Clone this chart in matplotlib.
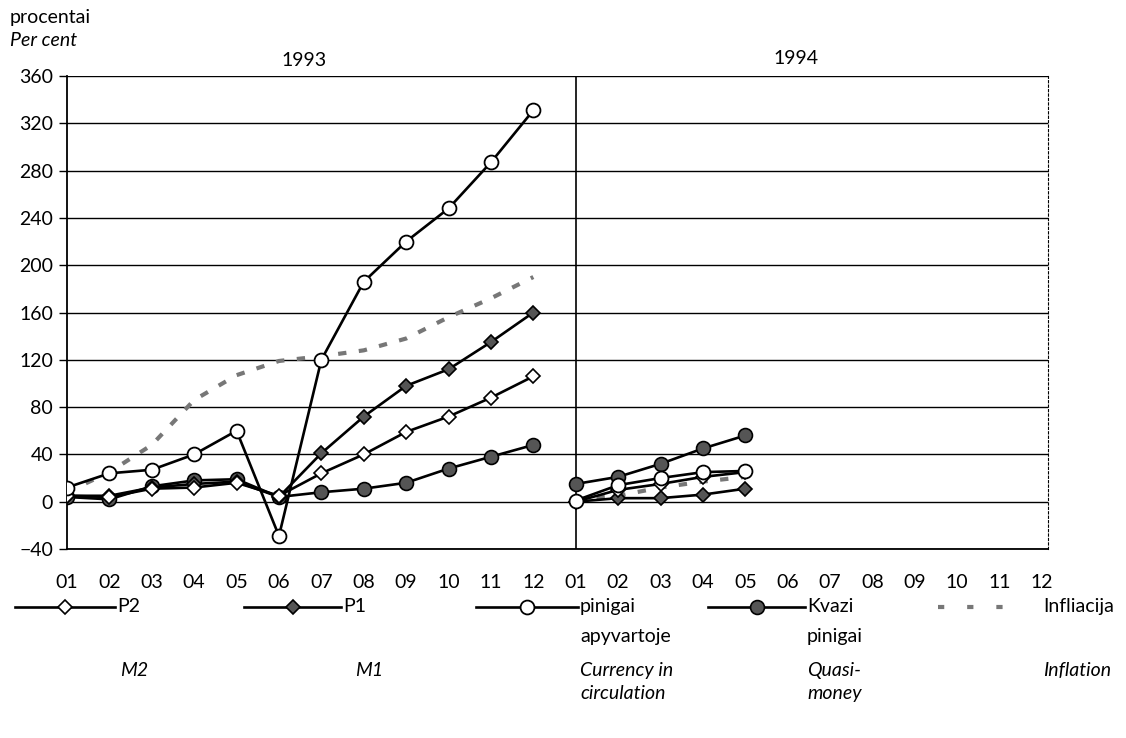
import numpy as np
import matplotlib.pyplot as plt
from matplotlib.lines import Line2D

plt.rcParams['font.family'] = ['Lato', 'DejaVu Sans']

# menesiai / months
menesiai = ['01', '02', '03', '04', '05', '06', '07', '08', '09', '10', '11', '12'] * 2
metai = ['1993', '1994']

# 1993 (01..12)
p2_93 = [5, 4, 11, 12, 16, 5, 24, 40, 59, 72, 88, 106]
p1_93 = [5, 5, 12, 15, 17, 4, 41, 72, 98, 112, 135, 160]
pinigai_93 = [12, 24, 27, 40, 60, -29, 120, 186, 220, 248, 287, 331]
kvazi_93 = [4, 2, 13, 18, 19, 4, 8, 11, 16, 28, 38, 48]
infl_93 = [8, 25, 48, 86, 107, 119, 123, 128, 138, 156, 172, 190]

# 1994 (01..05)
p2_94 = [0, 10, 15, 21, 25]
p1_94 = [0, 3, 3, 6, 11]
pinigai_94 = [1, 14, 20, 25, 26]
kvazi_94 = [15, 21, 32, 45, 56]
infl_94 = [2, 5, 12, 17, 21]

x93 = np.arange(12)
x94 = np.arange(12, 12 + len(p2_94))

fig = plt.figure(figsize=(11.26, 7.38), dpi=100)
ax = fig.add_axes([67/1126, 1 - 549/738, (1048-67)/1126, (549-76)/738])

lw = 1.9
dash_style = dict(color='#777777', lw=3, linestyle=(0, (2.0, 3.0)), solid_capstyle='butt')
styles = {
    'p2': dict(color='black', lw=lw, marker='D', ms=7, mfc='white', mec='black', mew=1.2),
    'p1': dict(color='black', lw=lw, marker='D', ms=7, mfc='#555555', mec='black', mew=1.2),
    'pin': dict(color='black', lw=lw, marker='o', ms=10, mfc='white', mec='black', mew=1.3),
    'kv': dict(color='black', lw=lw, marker='o', ms=10, mfc='#555555', mec='black', mew=1.2),
}

for xs, infl, kv, p1, p2, pin in [(x93, infl_93, kvazi_93, p1_93, p2_93, pinigai_93),
                                  (x94, infl_94, kvazi_94, p1_94, p2_94, pinigai_94)]:
    ax.plot(xs, infl, zorder=2, **dash_style)
    ax.plot(xs, kv, zorder=3, **styles['kv'])
    ax.plot(xs, p1, zorder=3, **styles['p1'])
    ax.plot(xs, p2, zorder=4, **styles['p2'])
    ax.plot(xs, pin, zorder=5, **styles['pin'])

ax.set_xlim(0, 23.14)
ax.set_ylim(-40, 360)
ax.set_yticks(np.arange(-40, 361, 40))
ax.set_xticks(np.arange(24))
ax.set_xticklabels(menesiai)
ax.tick_params(axis='y', length=6, width=1, labelsize=14, pad=4)
ax.tick_params(axis='x', length=0, labelsize=14, pad=18)
ax.yaxis.grid(True, color='black', lw=1)
ax.set_axisbelow(True)
ax.axvline(12, color='black', lw=1.2, zorder=1)

for s in ['left', 'bottom']:
    ax.spines[s].set_linewidth(1.3)
ax.spines['top'].set_visible(False)
ax.spines['right'].set_linestyle((0, (2, 2)))
ax.spines['right'].set_linewidth(0.8)

ax.text(5.6, 366, metai[0], ha='center', va='bottom', fontsize=14)
ax.text(17.2, 368, metai[1], ha='center', va='bottom', fontsize=14)
fig.text(10/1126, 1 - 18/738, 'procentai', fontsize=14, va='center', ha='left')
fig.text(10/1126, 1 - 40/738, 'Per cent', fontsize=14, va='center', ha='left', style='italic')

# legenda
leg_y = 1 - 607/738
leg = [
    (15, 115, 'P2', 'M2', styles['p2'], 117, 120),
    (244, 341, 'P1', 'M1', styles['p1'], 343, 355),
    (476, 578, 'pinigai\napyvartoje', 'Currency in\ncirculation', styles['pin'], 580, 580),
    (708, 805, 'Kvazi\npinigai', 'Quasi-\nmoney', styles['kv'], 807, 807),
    (938, 1022, 'Infliacija', 'Inflation', None, 1043, 1043),
]
for x0, x1, lt, en, st, tx, ex in leg:
    if st is None:
        fig.add_artist(Line2D([x0/1126, x1/1126], [leg_y, leg_y], transform=fig.transFigure,
                              color='#777777', lw=3, linestyle=(0, (1.5, 5.5))))
    else:
        fig.add_artist(Line2D([x0/1126, x1/1126], [leg_y, leg_y], transform=fig.transFigure,
                              color='black', lw=lw))
        opts = {k: v for k, v in st.items() if k not in ('lw', 'color')}
        fig.add_artist(Line2D([(x0 + x1)/2/1126], [leg_y], transform=fig.transFigure,
                              linestyle='none', **opts))
    fig.text(tx/1126, leg_y + 0.012, lt, fontsize=14, va='top', ha='left', linespacing=1.95)
    fig.text(ex/1126, 1 - 662/738, en, fontsize=14, va='top', ha='left', style='italic',
             linespacing=1.45)

fig.savefig('out.png', dpi=100)
